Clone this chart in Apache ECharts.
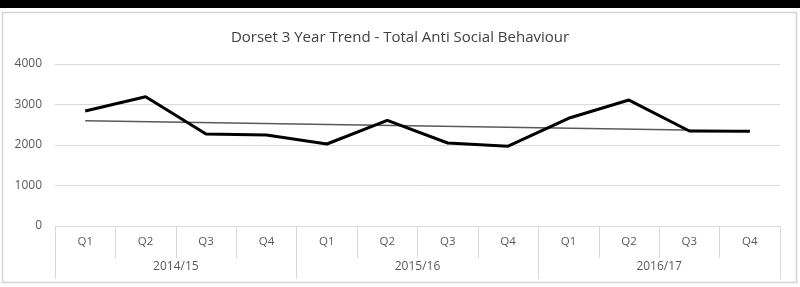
<!DOCTYPE html>
<html>
<head>
<meta charset="utf-8">
<script src="https://cdn.jsdelivr.net/npm/echarts@6/dist/echarts.min.js"></script>
<style>
html,body{margin:0;padding:0;background:#fff;}
#chart{width:800px;height:287px;}
</style>
</head>
<body>
<div id="chart"></div>
<script>
const quarters = ['Q1','Q2','Q3','Q4','Q1','Q2','Q3','Q4','Q1','Q2','Q3','Q4'];
const years = ['2014/15','2015/16','2016/17'];
const asbValues = [2840, 3190, 2270, 2245, 2025, 2610, 2050, 1970, 2660, 3110, 2345, 2340];
const trendStartEnd = [2600, 2345];
const yTicks = [0, 1000, 2000, 3000, 4000];

const chart = echarts.init(document.getElementById('chart'), null, {renderer:'canvas'});
const font = '"Open Sans", "Noto Sans", sans-serif';
chart.setOption({
  animation: false,
  backgroundColor: '#ffffff',
  textStyle: {fontFamily: font},
  title: {
    text: 'Dorset 3 Year Trend - Total Anti Social Behaviour',
    left: 'center', top: 25,
    textStyle: {fontFamily: font, fontSize: 15, fontWeight: 'normal', color: '#404040'}
  },
  graphic: [
    {type:'rect', shape:{x:0,y:0,width:800,height:8}, style:{fill:'#000'}, z:10},
    {type:'rect', shape:{x:2.5,y:12.5,width:794,height:270}, style:{fill:'none', stroke:'#d4d4d4', lineWidth:1.5}, z:10}
  ],
  grid: {left: 55, right: 20, top: 64, bottom: 61},
  xAxis: [
    {
      type: 'category', data: quarters, boundaryGap: true, position: 'bottom',
      axisLine: {show: true, lineStyle: {color: '#d9d9d9', width: 1}},
      axisTick: {show: true, interval: 0, length: 32, lineStyle: {color: '#d9d9d9'}},
      axisLabel: {interval: 0, margin: 10, color: '#595959', fontSize: 11.5, fontFamily: font},
      splitLine: {show: false}
    },
    {
      type: 'category', data: years, boundaryGap: true, position: 'bottom', gridIndex: 0,
      axisLine: {show: false},
      axisTick: {show: true, interval: 0, length: 53, lineStyle: {color: '#d9d9d9'}},
      axisLabel: {interval: 0, margin: 35, color: '#595959', fontSize: 12, fontFamily: font},
      splitLine: {show: false}
    }
  ],
  yAxis: {
    type: 'value', min: yTicks[0], max: yTicks[yTicks.length-1], interval: 1000,
    axisLine: {show: false}, axisTick: {show: false},
    axisLabel: {color: '#595959', fontSize: 12, margin: 13, fontFamily: font,
      formatter: function (v) { return String(v); }},
    splitLine: {lineStyle: {color: '#d9d9d9', width: 1}}
  },
  series: [
    {
      name: 'Trend', type: 'line', xAxisIndex: 0,
      data: [[0, trendStartEnd[0]], [quarters.length - 1, trendStartEnd[1]]],
      symbol: 'none', lineStyle: {color: '#595959', width: 1.5}, z: 2
    },
    {
      name: 'Total ASB', type: 'line', xAxisIndex: 0,
      data: asbValues, symbol: 'none',
      lineStyle: {color: '#000000', width: 3}, z: 3
    }
  ]
});
</script>
</body>
</html>
